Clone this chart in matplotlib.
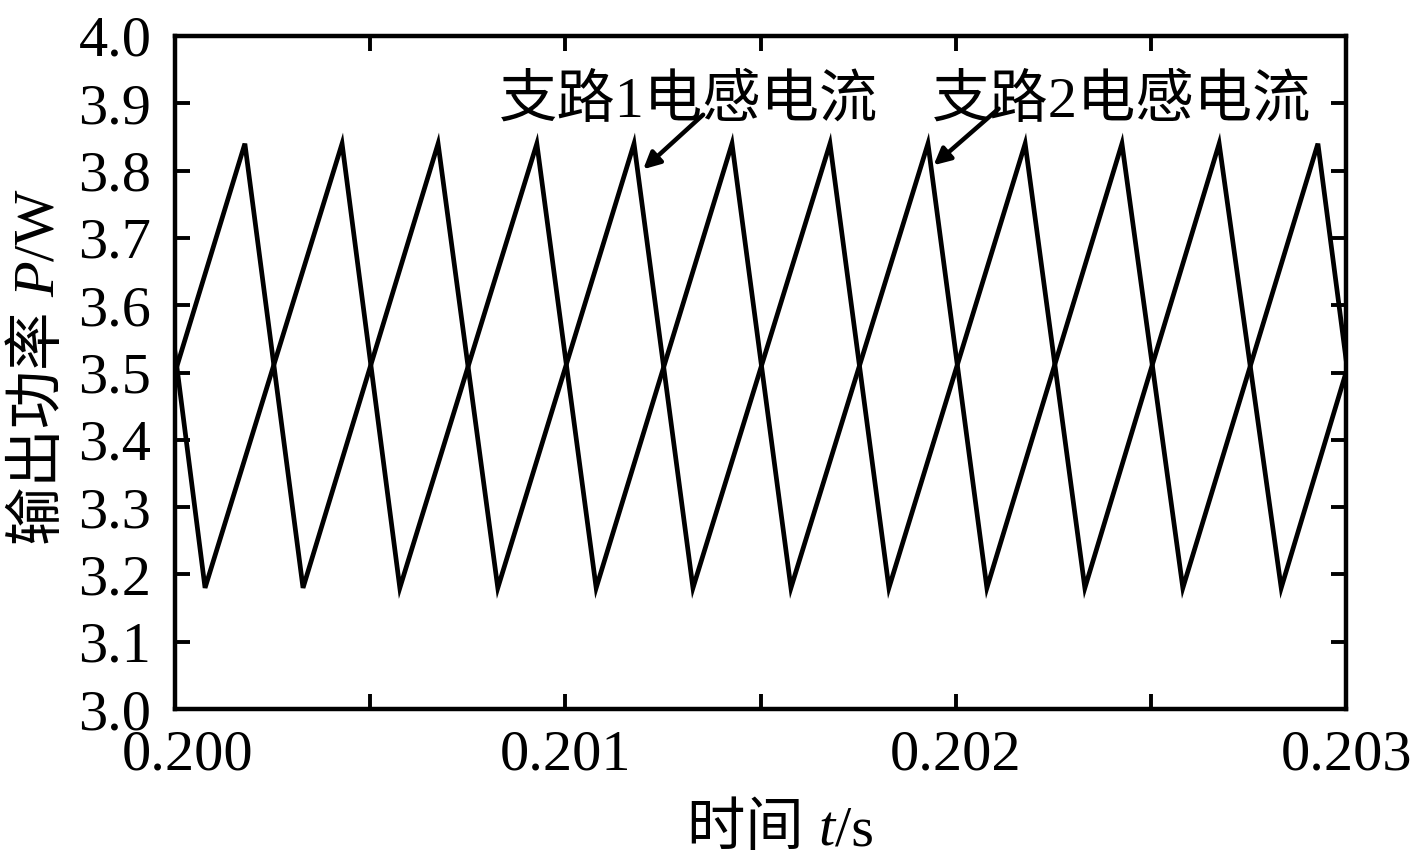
import numpy as np
import matplotlib.transforms as mtransforms
from matplotlib import pyplot as plt

""" Vertex times / values read from the reference (triangle waveforms) """
t_branch1 = [0.200000, 0.200179, 0.200328, 0.200674, 0.200827, 0.201176, 0.201327,
             0.201678, 0.201829, 0.202178, 0.202331, 0.202675, 0.202834, 0.203000]
p_branch1 = [3.50, 3.84, 3.18, 3.84, 3.18, 3.84, 3.18,
             3.84, 3.18, 3.84, 3.18, 3.84, 3.18, 3.50]
t_branch2 = [0.200000, 0.200077, 0.200428, 0.200576, 0.200927, 0.201079, 0.201427,
             0.201578, 0.201929, 0.202080, 0.202426, 0.202582, 0.202928, 0.203000]
p_branch2 = [3.53, 3.18, 3.84, 3.18, 3.84, 3.18, 3.84,
             3.18, 3.84, 3.18, 3.84, 3.18, 3.84, 3.52]

x_ticks = [0.2000, 0.2005, 0.2010, 0.2015, 0.2020, 0.2025, 0.2030]
x_labels = ["0.200", "", "0.201", "", "0.202", "", "0.203"]
y_ticks = [3.0, 3.1, 3.2, 3.3, 3.4, 3.5, 3.6, 3.7, 3.8, 3.9, 4.0]
y_labels = ["%.1f" % v for v in y_ticks]

fams = ["Liberation Serif", "Noto Sans CJK SC"]
plt.rcParams["font.family"] = fams
fs = 42

fig = plt.figure(figsize=(14.17, 8.67), dpi=100)
ax = fig.add_axes([0.1235, 0.1822, 0.8264, 0.7763])

ax.plot(t_branch1, p_branch1, color="black", lw=3.4, solid_joinstyle="miter")
ax.plot(t_branch2, p_branch2, color="black", lw=3.4, solid_joinstyle="miter")

ax.set_xlim(0.200, 0.203)
ax.set_ylim(3.0, 4.0)
ax.set_xticks(x_ticks)
ax.set_xticklabels(x_labels)
ax.set_yticks(y_ticks)
ax.set_yticklabels(y_labels)
ax.tick_params(direction="in", top=True, right=True, length=11, width=2.8,
               labelsize=fs)
ax.tick_params(axis="x", pad=15)
ax.tick_params(axis="y", pad=17)
for sp in ax.spines.values():
    sp.set_linewidth(3.2)

# first x label sits a bit to the right, as in the reference
lbl0 = ax.get_xticklabels()[0]
lbl0.set_transform(lbl0.get_transform() +
                   mtransforms.ScaledTranslation(13 / 100, 0, fig.dpi_scale_trans))

# annotations
arrow = dict(arrowstyle="-|>,head_length=1.0,head_width=0.5", color="black", lw=3.2,
             shrinkA=0, shrinkB=0)
ax.annotate("支路1电感电流", xy=(0.2011995, 3.802), xytext=(0.2013150, 3.902),
            fontsize=fs, ha="center", va="center")
ax.annotate("", xy=(0.2011995, 3.802), xytext=(0.2013530, 3.883), arrowprops=arrow)
ax.annotate("支路2电感电流", xy=(0.2019435, 3.808), xytext=(0.2024250, 3.902),
            fontsize=fs, ha="center", va="center")
ax.annotate("", xy=(0.2019435, 3.808), xytext=(0.2021100, 3.892), arrowprops=arrow)

# x label: 时间 t/s
xl1 = fig.text(687 / 1417, 1 - 845 / 867, "时间 ", fontsize=fs, ha="left", va="baseline")
xl2 = ax.annotate("t", xy=(1, 0), xycoords=xl1, fontsize=fs, style="italic",
                  ha="left", va="bottom")
xl3 = ax.annotate("/s", xy=(1, 0), xycoords=xl2, fontsize=fs, ha="left", va="bottom")

# y label: 输出功率 P/W
yl1 = fig.text(40 / 1417, 1 - 545 / 867, "输出功率 ", fontsize=fs, rotation=90,
               ha="center", va="bottom")
yl2 = ax.annotate("P", xy=(0.5, 1), xycoords=yl1, fontsize=fs, style="italic",
                  rotation=90, ha="center", va="bottom")
yl3 = ax.annotate("/W", xy=(0.5, 1), xycoords=yl2, fontsize=fs, rotation=90,
                  ha="center", va="bottom")

plt.savefig("out.png", dpi=100)
